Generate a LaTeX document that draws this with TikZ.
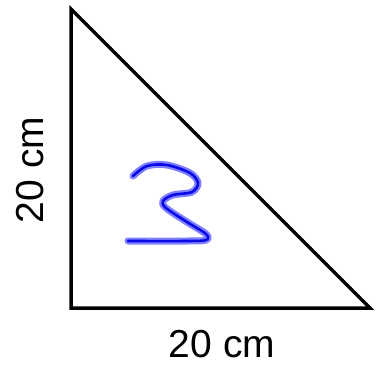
\documentclass[tikz,border=0pt]{standalone}
\usepackage{fontspec}
\setmainfont{Liberation Sans}
\usepackage{tikz}
\usetikzlibrary{positioning,calc}
\definecolor{inkblue}{HTML}{0A0AE6}
\definecolor{inkhalo}{HTML}{7F7FFF}

\begin{document}
\begin{tikzpicture}[x=1pt,y=-1pt,
  edge/.style={line width=3.5pt,line join=miter,black},
  sidelabel/.style={font=\fontsize{39}{40}\selectfont,inner sep=0pt}]
\useasboundingbox (0,0) rectangle (376,365);
\coordinate (top) at (71,9);
\coordinate (bl) at (71,308);
\coordinate (br) at (370,308);
\draw[edge] (top) -- (bl) -- (br) -- cycle;
\node[sidelabel,anchor=base] (base) at (222,357) {20 cm};
\node[sidelabel,anchor=base,rotate=90] (height) at (43,170) {20 cm};
% hand-written digit
\foreach \c/\w in {inkhalo/7pt,inkblue/2.6pt} {
  \draw[color=\c,line width=\w,line cap=round,line join=round]
    plot[smooth,tension=0.55] coordinates {(133,176) (147,166) (167,165) (190,173)
      (198,183) (192,192) (173,195) (163,201) (166,208) (187,222) (206,234)
      (206,240) (187,241) (128,241)};
}
\end{tikzpicture}
\end{document}
